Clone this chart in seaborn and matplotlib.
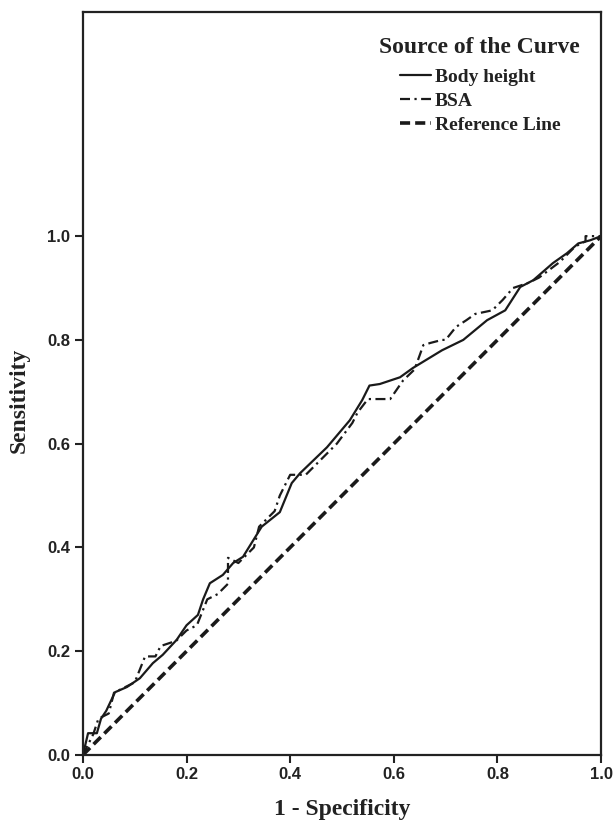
import matplotlib
matplotlib.use("Agg")
import matplotlib.pyplot as plt
import seaborn as sns
import pandas as pd

# Body height ROC curve
bh_x = [0.0, 0.01, 0.027, 0.035, 0.045, 0.062, 0.085, 0.11, 0.135, 0.154, 0.181, 0.2, 0.222, 0.232,
        0.245, 0.27, 0.29, 0.309, 0.345, 0.38, 0.403, 0.419, 0.471, 0.515, 0.539, 0.553, 0.573,
        0.612, 0.637, 0.693, 0.734, 0.78, 0.815, 0.844, 0.869, 0.907, 0.934, 0.956, 0.979, 1.0]
bh_y = [0.0, 0.042, 0.042, 0.07, 0.085, 0.121, 0.131, 0.148, 0.177, 0.193, 0.222, 0.25, 0.27, 0.3,
        0.331, 0.347, 0.37, 0.382, 0.44, 0.468, 0.524, 0.543, 0.593, 0.645, 0.684, 0.712, 0.715,
        0.728, 0.746, 0.78, 0.80, 0.838, 0.857, 0.902, 0.915, 0.948, 0.967, 0.986, 0.992, 1.0]

# BSA ROC curve
bsa_x = [0.0, 0.02, 0.03, 0.05, 0.06, 0.1, 0.12, 0.14, 0.15, 0.18, 0.2, 0.22, 0.24, 0.26, 0.28,
         0.28, 0.3, 0.33, 0.34, 0.37, 0.38, 0.40, 0.43, 0.46, 0.49, 0.52, 0.53, 0.55, 0.593,
         0.618, 0.64, 0.657, 0.67, 0.693, 0.70, 0.72, 0.74, 0.757, 0.79, 0.81, 0.83, 0.86,
         0.88, 0.92, 0.95, 0.97, 0.97, 1.0]
bsa_y = [0.0, 0.04, 0.07, 0.08, 0.12, 0.14, 0.19, 0.19, 0.21, 0.22, 0.24, 0.25, 0.30, 0.31, 0.33,
         0.38, 0.37, 0.40, 0.44, 0.47, 0.50, 0.54, 0.54, 0.57, 0.60, 0.64, 0.66, 0.686, 0.686,
         0.722, 0.743, 0.79, 0.794, 0.80, 0.80, 0.825, 0.838, 0.85, 0.857, 0.877, 0.90, 0.91,
         0.92, 0.95, 0.98, 0.99, 1.0, 1.0]

ref_x = [0.0, 1.0]
ref_y = [0.0, 1.0]

x_ticks = [0.0, 0.2, 0.4, 0.6, 0.8, 1.0]
y_ticks = [0.0, 0.2, 0.4, 0.6, 0.8, 1.0]

sns.set_style("white")

fig = plt.figure(figsize=(6.14, 8.21), dpi=100)
ax = fig.add_axes([0.135, 0.0804, 0.844, 0.905])

df_bh = pd.DataFrame({"x": bh_x, "y": bh_y})
df_bsa = pd.DataFrame({"x": bsa_x, "y": bsa_y})
df_ref = pd.DataFrame({"x": ref_x, "y": ref_y})

sns.lineplot(data=df_bh, x="x", y="y", ax=ax, color="#1a1a1a", lw=1.6,
             estimator=None, sort=False, label="Body height")
sns.lineplot(data=df_bsa, x="x", y="y", ax=ax, color="#1a1a1a", lw=1.6,
             estimator=None, sort=False, label="BSA", dashes=False)
ax.lines[-1].set_dashes([4.5, 2, 1, 2])
sns.lineplot(data=df_ref, x="x", y="y", ax=ax, color="#1a1a1a", lw=2.6,
             estimator=None, sort=False, label="Reference Line")
ax.lines[-1].set_dashes([2.8, 1.4])

ax.set_xlim(0, 1.0)
ax.set_ylim(0, 1.432)
ax.set_xticks(x_ticks)
ax.set_yticks(y_ticks)
ax.set_xticklabels([f"{t:.1f}" for t in x_ticks], fontfamily="Liberation Sans",
                   fontweight="bold", fontsize=12, color="#222222")
ax.set_yticklabels([f"{t:.1f}" for t in y_ticks], fontfamily="Liberation Sans",
                   fontweight="bold", fontsize=12, color="#222222")
ax.tick_params(axis="both", direction="out", length=6, width=1.5, color="#222222",
               bottom=True, left=True, pad=3)

for s in ax.spines.values():
    s.set_color("#222222")
    s.set_linewidth(1.6)

ax.set_xlabel("1 - Specificity", fontfamily="Liberation Serif", fontweight="bold",
              fontsize=17, color="#222222", va="center")
ax.set_ylabel("Sensitivity", fontfamily="Liberation Serif", fontweight="bold",
              fontsize=17, color="#222222", va="center")
ax.xaxis.set_label_coords(0.5, -0.074)
ax.yaxis.set_label_coords(-0.122, 0.478)

leg = ax.legend(loc="upper center", bbox_to_anchor=(0.766, 0.985), frameon=False,
                title="Source of the Curve", handlelength=1.6, handletextpad=0.2,
                labelspacing=0.33, borderpad=0.2,
                prop={"family": "Liberation Serif", "weight": "bold", "size": 14},
                title_fontproperties={"family": "Liberation Serif", "weight": "bold", "size": 17})
leg._legend_box.sep = 7.5
for t in leg.get_texts():
    t.set_color("#222222")
leg.get_title().set_color("#222222")

fig.savefig("out.png", dpi=100)
